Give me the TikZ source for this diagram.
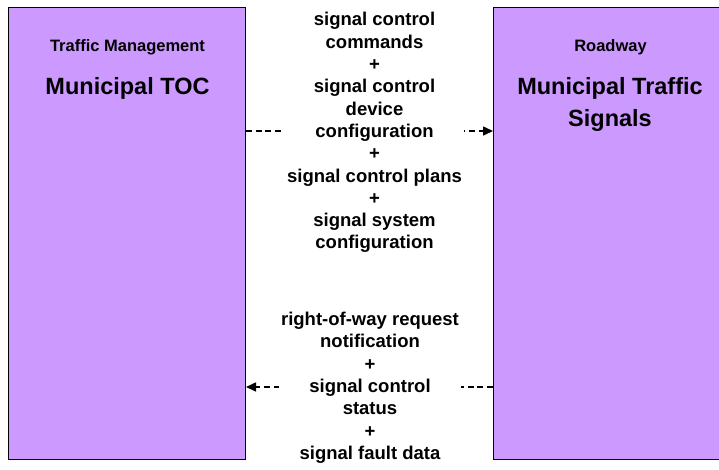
\documentclass[tikz,border=0pt]{standalone}
\usepackage{fontspec}
\setmainfont{Liberation Sans}
\usetikzlibrary{arrows.meta,backgrounds}
\definecolor{boxfill}{HTML}{CC99FF}
\tikzset{
  box/.style={draw=black, line width=1pt, fill=boxfill, inner sep=0pt, anchor=north west},
  openbox/.style={fill=boxfill, inner sep=0pt, anchor=north west},
  edge/.style={draw=black, line width=1pt},
  small/.style={font=\bfseries\fontsize{16.5}{20}\selectfont, anchor=base, inner sep=0pt},
  title/.style={font=\bfseries\fontsize{23.5}{32}\selectfont, anchor=base, inner sep=0pt},
  lbl/.style={font=\bfseries\fontsize{18.5}{22.3}\selectfont, align=center, fill=white, inner sep=2pt},
  flow/.style={line width=1.5pt, dash pattern=on 6pt off 3.7pt, -{Triangle[length=10pt,width=9pt]}}
}
\begin{document}
\begin{tikzpicture}[x=1pt,y=-1pt]
\useasboundingbox (0,0) rectangle (719,469);
\clip (0,0) rectangle (719,469);
\node[box, minimum width=237pt, minimum height=452pt] (toc) at (8,7) {};
\node[openbox, minimum width=228pt, minimum height=452pt] (sig) at (493,7) {};
\draw[edge] (sig.north east) -- (sig.north west) -- (sig.south west) -- (sig.south east);
\node[small] (tocsub) at (127.5,51) {Traffic Management};
\node[title] (toctitle) at (127.5,94.3) {Municipal TOC};
\node[small] (sigsub) at (610.5,51) {Roadway};
\node[title] (sigtitle1) at (610,94.3) {Municipal Traffic};
\node[title] (sigtitle2) at (610,126.7) {Signals};
\node[lbl] (l1) at (374.5,132.7) {signal control\\commands\\+\\signal control\\device\\configuration\\+\\signal control plans\\+\\signal system\\configuration};
\node[lbl] (l2) at (370,387.7) {right-of-way request\\notification\\+\\signal control\\status\\+\\signal fault data};
\coordinate (y1) at (0,131);
\coordinate (y2) at (0,387);
\begin{scope}[on background layer]
\draw[flow] (toc.east |- y1) -- (sig.west |- y1);
\draw[flow] (sig.west |- y2) -- (toc.east |- y2);
\end{scope}
\end{tikzpicture}
\end{document}
